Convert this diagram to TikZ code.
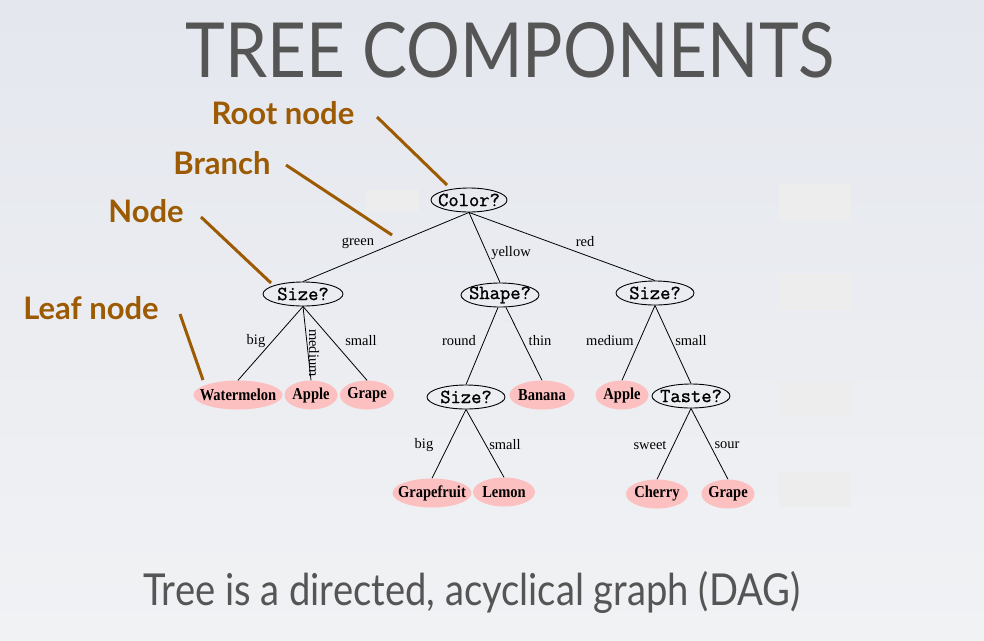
\documentclass[tikz,border=0pt]{standalone}
\usepackage{fontspec}
\setmainfont{Liberation Serif}
\newfontfamily\gillish{Lato}
\newfontfamily\courierish[FakeBold=1.2]{Latin Modern Mono}
\usetikzlibrary{shapes.geometric}
\definecolor{bgtop}{RGB}{228,231,238}
\definecolor{bgbot}{RGB}{241,242,244}
\definecolor{titlegray}{RGB}{85,85,85}
\definecolor{brownlab}{RGB}{156,90,2}
\definecolor{leafpink}{RGB}{252,192,192}
\definecolor{patch}{RGB}{237,237,237}
\newcommand{\tallish}[1]{\scalebox{1}[1.15]{#1}}
\tikzset{
  qnode/.style={ellipse,draw=black,line width=0.9pt,inner xsep=-22pt,inner ysep=-6pt,minimum height=24pt,font=\courierish\fontsize{20}{20}\selectfont},
  leaf/.style={ellipse,fill=leafpink,inner xsep=-22pt,inner ysep=-6pt,minimum height=29pt,font=\bfseries\fontsize{14.5}{14.5}\selectfont},
  lbl/.style={inner sep=0pt,font=\fontsize{14.5}{14.5}\selectfont},
  edge/.style={line width=0.8pt,black},
  brown/.style={text=brownlab,inner sep=0pt,font=\gillish\bfseries\fontsize{31}{31}\selectfont},
  pointer/.style={draw=brownlab,line width=3pt},
  patchbox/.style={fill=patch,draw=none}
}
\begin{document}
\begin{tikzpicture}[x=1pt,y=-1pt]
\useasboundingbox (0,0) rectangle (984,640);
\shade[top color=bgtop,bottom color=bgbot] (0,0) rectangle (984,640);
% patches
\fill[patchbox] (366,190) rectangle (419,212);
\fill[patchbox] (779,184) rectangle (851,221);
\fill[patchbox] (779,274) rectangle (851,310);
\fill[patchbox] (779,381) rectangle (851,417);
\fill[patchbox] (779,471) rectangle (851,507);
% titles
\node[text=titlegray,inner sep=0pt,font=\gillish\fontsize{76}{76}\selectfont] (title) at (510,50) {\scalebox{0.886}[1]{TREE COMPONENTS}};
\node[text=titlegray,inner sep=0pt,font=\gillish\fontsize{44}{44}\selectfont] (sub) at (472,592) {\scalebox{0.868}[1]{Tree is a directed, acyclical graph (DAG)}};
% tree nodes
\node[qnode,minimum width=76pt] (color) at (469,200) {Color?};
\node[qnode,minimum width=80pt] (sizeL) at (303,294) {Size?};
\node[qnode,minimum width=78pt] (shape) at (500,295) {Shape?};
\node[qnode,minimum width=78pt] (sizeR) at (655,293) {Size?};
\node[qnode,minimum width=78pt] (sizeM) at (466,397) {Size?};
\node[qnode,minimum width=78pt] (taste) at (691,396) {Taste?};
\node[leaf,minimum width=89pt] (water) at (238,395) {\tallish{Watermelon}};
\node[leaf,minimum width=53pt] (appleL) at (311,395) {\tallish{Apple}};
\node[leaf,minimum width=54pt] (grapeL) at (367,395) {\tallish{Grape}};
\node[leaf,minimum width=65pt] (banana) at (542,395) {\tallish{Banana}};
\node[leaf,minimum width=53pt] (appleR) at (622,395) {\tallish{Apple}};
\node[leaf,minimum width=79pt] (gfruit) at (432,493) {\tallish{Grapefruit}};
\node[leaf,minimum width=62pt] (lemon) at (504,492) {\tallish{Lemon}};
\node[leaf,minimum width=62pt] (cherry) at (657,494) {\tallish{Cherry}};
\node[leaf,minimum width=53pt] (grapeR) at (728,494) {\tallish{Grape}};
% edges
\draw[edge] (color.south) -- (sizeL.north);
\draw[edge] (color.south) -- (shape.north);
\draw[edge] (color.south) -- (sizeR.north);
\draw[edge] (sizeL.south) -- (water.north);
\draw[edge] (sizeL.south) -- (appleL.north);
\draw[edge] (sizeL.south) -- (grapeL.north);
\draw[edge] ([xshift=-2pt]shape.south) -- (sizeM.north);
\draw[edge] ([xshift=6pt]shape.south) -- (banana.north);
\draw[edge] (sizeR.south) -- (appleR.north);
\draw[edge] (sizeR.south) -- (taste.north);
\draw[edge] (sizeM.south) -- (gfruit.north);
\draw[edge] (sizeM.south) -- (lemon.north);
\draw[edge] (taste.south) -- (cherry.north);
\draw[edge] (taste.south) -- (grapeR.north);
% edge labels
\node[lbl] (lgreen) at (358,243) {green};
\node[lbl] (lyellow) at (511,253) {yellow};
\node[lbl] (lred) at (585,242) {red};
\node[lbl] (lbig1) at (256,341) {big};
\node[lbl,rotate=-90] (lmed1) at (314,353) {medium};
\node[lbl] (lsmall1) at (361,341) {small};
\node[lbl] (lround) at (459,341) {round};
\node[lbl] (lthin) at (540,341) {thin};
\node[lbl] (lmed2) at (610,341) {medium};
\node[lbl] (lsmall2) at (691,341) {small};
\node[lbl] (lbig2) at (424,445) {big};
\node[lbl] (lsmall3) at (505,445) {small};
\node[lbl] (lsweet) at (650,445) {sweet};
\node[lbl] (lsour) at (727,445) {sour};
% brown annotations
\node[brown] (root) at (283,113) {Root node};
\node[brown] (branch) at (222,163) {Branch};
\node[brown] (nodelab) at (146,211) {Node};
\node[brown] (leaflab) at (91,308) {Leaf node};
\coordinate (rootA) at (377,117);
\coordinate (rootB) at (447,185);
\coordinate (brA) at (286,165);
\coordinate (brB) at (392,235);
\coordinate (ndA) at (201,217);
\coordinate (ndB) at (271,283);
\coordinate (lfA) at (180,314);
\coordinate (lfB) at (203,380);
\draw[pointer] (rootA) -- (rootB);
\draw[pointer] (brA) -- (brB);
\draw[pointer] (ndA) -- (ndB);
\draw[pointer] (lfA) -- (lfB);
\end{tikzpicture}
\end{document}
